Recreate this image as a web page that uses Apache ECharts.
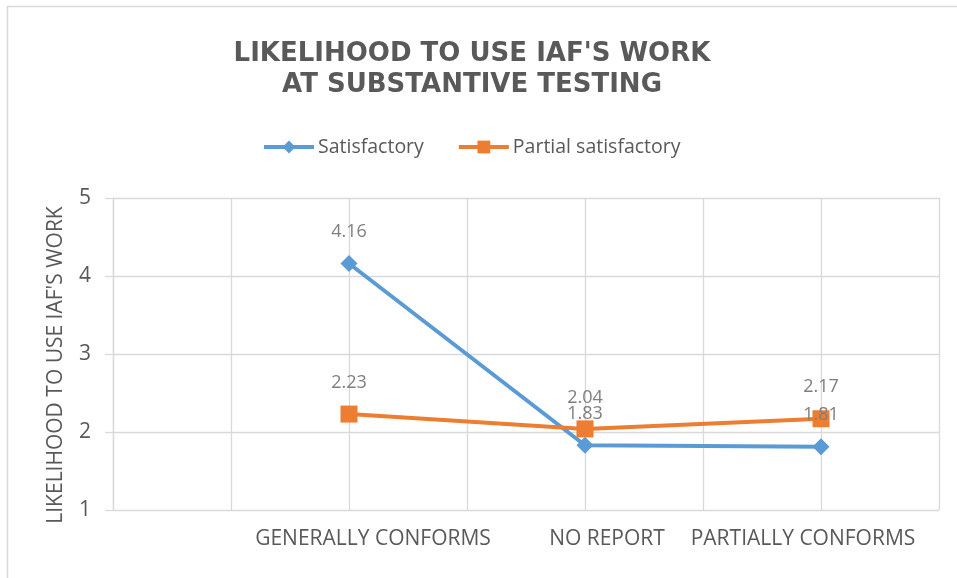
<!DOCTYPE html>
<html>
<head>
<meta charset="utf-8">
<script src="https://cdn.jsdelivr.net/npm/echarts@6/dist/echarts.min.js"></script>
<style>
html,body{margin:0;padding:0;background:#fff;}
#chart{width:957px;height:578px;}
</style>
</head>
<body>
<div id="chart"></div>
<script>
var categories = ["", "", "GENERALLY CONFORMS", "", "NO REPORT", "", "PARTIALLY CONFORMS", ""];
var satisfactory = [null, null, 4.16, null, 1.83, null, 1.81, null];
var partialSatisfactory = [null, null, 2.23, null, 2.04, null, 2.17, null];
var yTicks = [1, 2, 3, 4, 5];

var FONT = "Open Sans";
var chart = echarts.init(document.getElementById('chart'));
var labelShift = {"GENERALLY CONFORMS": [0, 0, 0, 48], "NO REPORT": [0, 0, 0, 44], "PARTIALLY CONFORMS": [0, 36, 0, 0]};
var labelFmt = function (p) { return p.value.toFixed(2); };
chart.setOption({
  animation: false,
  textStyle: {fontFamily: FONT},
  graphic: [{
    type: 'rect', silent: true, z: -1,
    shape: {x: 7.5, y: 6.5, width: 1200, height: 1200},
    style: {fill: 'none', stroke: '#d9d9d9', lineWidth: 1.5}
  }],
  title: {
    text: "LIKELIHOOD TO USE IAF'S WORK\nAT SUBSTANTIVE TESTING",
    left: 467, textAlign: 'center', top: 34,
    textStyle: {fontFamily: 'DejaVu Sans', fontSize: 26, fontWeight: 'bold', color: '#595959', lineHeight: 31}
  },
  legend: {
    top: 132, left: 257, itemGap: 33, itemWidth: 50, itemHeight: 16,
    lineStyle: {width: 4},
    textStyle: {fontFamily: FONT, fontSize: 19.5, color: '#595959', padding: [0, 0, 0, -1]},
    data: ['Satisfactory', 'Partial satisfactory']
  },
  grid: {left: 113, right: 18, top: 198, bottom: 68, containLabel: false},
  xAxis: {
    type: 'category', data: categories, boundaryGap: false,
    axisLine: {show: false},
    axisTick: {show: false},
    splitLine: {show: true, lineStyle: {color: '#d9d9d9', width: 1.3}},
    axisLabel: {
      interval: 0, margin: 19, color: '#595959', fontSize: 21, fontFamily: FONT,
      formatter: function (v) {
        if (!v) return '';
        return '{' + (v === 'GENERALLY CONFORMS' ? 'g' : v === 'NO REPORT' ? 'n' : 'p') + '|' + v + '}';
      },
      rich: {
        g: {fontSize: 21, fontFamily: FONT, color: '#595959', padding: labelShift['GENERALLY CONFORMS']},
        n: {fontSize: 21, fontFamily: FONT, color: '#595959', padding: labelShift['NO REPORT']},
        p: {fontSize: 21, fontFamily: FONT, color: '#595959', padding: labelShift['PARTIALLY CONFORMS']}
      }
    }
  },
  yAxis: {
    type: 'value', min: yTicks[0], max: yTicks[yTicks.length - 1], interval: 1,
    name: "LIKELIHOOD TO USE IAF'S WORK", nameLocation: 'middle', nameGap: 46, nameRotate: 90,
    nameTextStyle: {fontFamily: FONT, fontSize: 21, color: '#595959', padding: [0, 22, 0, 0]},
    axisLine: {show: true, lineStyle: {color: '#d9d9d9', width: 1.3}},
    axisTick: {show: true, length: 8, lineStyle: {color: '#d9d9d9', width: 1.3}},
    splitLine: {show: true, lineStyle: {color: '#d9d9d9', width: 1.3}},
    axisLabel: {color: '#595959', fontSize: 21, margin: 22, fontFamily: FONT}
  },
  series: [{
    name: 'Satisfactory', type: 'line', data: satisfactory, connectNulls: true,
    symbol: 'diamond', symbolSize: 17,
    itemStyle: {color: '#5B9BD5'},
    lineStyle: {color: '#5B9BD5', width: 4},
    label: {show: true, position: 'top', distance: 14, color: '#7f7f7f', fontSize: 18, fontFamily: FONT, formatter: labelFmt}
  }, {
    name: 'Partial satisfactory', type: 'line', data: partialSatisfactory, connectNulls: true,
    symbol: 'rect', symbolSize: 17,
    itemStyle: {color: '#ED7D31'},
    lineStyle: {color: '#ED7D31', width: 4},
    label: {show: true, position: 'top', distance: 14, color: '#7f7f7f', fontSize: 18, fontFamily: FONT, formatter: labelFmt}
  }]
});
</script>
</body>
</html>
